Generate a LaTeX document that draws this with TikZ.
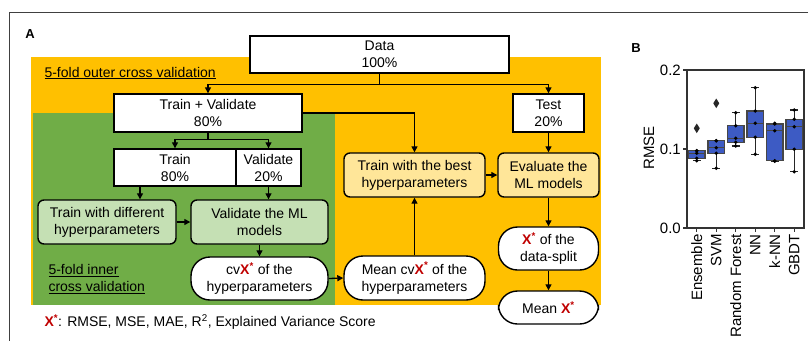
\documentclass[tikz,border=0pt]{standalone}
\usepackage{fontspec}
\setmainfont{Liberation Sans}
\usetikzlibrary{arrows.meta}
\definecolor{orng}{HTML}{FFC000}
\definecolor{grn}{HTML}{70AD47}
\definecolor{lgrn}{HTML}{C5E0B4}
\definecolor{lyel}{HTML}{FFE699}
\definecolor{xred}{HTML}{C00000}
\definecolor{bblue}{HTML}{3D5BC4}
\definecolor{bgray}{HTML}{474747}
\newcommand{\xs}{\textcolor{xred}{\textbf{X\textsuperscript{*}}}}
\newcommand{\bxp}[6]{%
  \draw[whisk] (#1,#2) -- (#1,#3) (#1,#5) -- (#1,#6) ({#1-4},#2) -- ({#1+4},#2) ({#1-4},#6) -- ({#1+4},#6);
  \draw[bxs] ({#1-8.3},#3) rectangle ({#1+8.3},#5);
  \draw[medl] ({#1-8.3},#4) -- ({#1+8.3},#4);
  \foreach \yy in {#2,#3,#4,#5,#6} \fill (#1,\yy) circle (1.9pt);
}
\newcommand{\outl}[2]{\fill[black!85] (#1,{#2-4.8}) -- ({#1+3},#2) -- (#1,{#2+4.8}) -- ({#1-3},#2) -- cycle;}
\begin{document}
\begin{tikzpicture}[x=1pt,y=-1pt,
  txt/.style={font=\fontsize{14}{17}\selectfont},
  box/.style={draw=black, line width=1.4pt, fill=white, inner sep=0pt, align=center, txt},
  rbox/.style={box, rounded corners=6pt},
  pill/.style={box, rounded corners=19pt},
  ln/.style={line width=1.3pt},
  arr/.style={line width=1.3pt, -{Triangle[length=6pt,width=6pt]}},
  whisk/.style={line width=1.1pt, black!85},
  bxs/.style={line width=1.2pt, draw=bgray, fill=bblue},
  medl/.style={line width=1.2pt, bgray},
  lab/.style={font=\fontsize{15}{18}\selectfont}
]
\useasboundingbox (0,0) rectangle (809,341);
\fill[white] (0,0) rectangle (809,341);
% outer frame
\draw[line width=0.9pt, black!75] (808,12) -- (9,12) -- (9,341);
% background regions
\fill[orng] (31,57) rectangle (601,305);
\fill[grn] (33,113) rectangle (335,305);
\node[font=\bfseries\fontsize{13}{15}\selectfont] (lA) at (30,34) {A};
\node[txt, anchor=west] (outer) at (41,73) {\underline{5-fold outer cross validation}};
\node[txt, anchor=north west, align=left] (inner) at (45,261) {\underline{5-fold inner}\\\underline{cross validation}};
\node[txt, anchor=west] (foot) at (41,322) {\xs: RMSE, MSE, MAE, R\textsuperscript{2}, Explained Variance Score};
% boxes
\node[box, minimum width=259pt, minimum height=37pt] (data) at (379.5,54.5) {Data\\100\%};
\node[box, minimum width=188pt, minimum height=38pt] (tv) at (208,113) {Train + Validate\\80\%};
\node[box, minimum width=71pt, minimum height=38pt] (test) at (548.5,113) {Test\\20\%};
\node[box, minimum width=122pt, minimum height=37pt] (train) at (175,167.5) {Train\\80\%};
\node[box, minimum width=65pt, minimum height=37pt] (valid) at (268.5,167.5) {Validate\\20\%};
\node[rbox, fill=lgrn, minimum width=138pt, minimum height=44pt] (tdiff) at (107,222) {Train with different\\hyperparameters};
\node[rbox, fill=lgrn, minimum width=137pt, minimum height=44pt] (vml) at (259.5,222) {Validate the ML\\models};
\node[pill, minimum width=137pt, minimum height=43pt] (cv) at (259.5,278.5) {cv\xs{} of the\\hyperparameters};
\node[pill, minimum width=141pt, minimum height=44pt] (mcv) at (414.5,278) {Mean cv\xs{} of the\\hyperparameters};
\node[rbox, fill=lyel, minimum width=141pt, minimum height=44pt] (tbest) at (414.5,175) {Train with the best\\hyperparameters};
\node[rbox, fill=lyel, minimum width=101pt, minimum height=44pt] (eval) at (548.5,175) {Evaluate the\\ML models};
\node[pill, minimum width=100pt, minimum height=43pt] (xds) at (548.5,248.5) {\xs{} of the\\data-split};
\node[pill, minimum width=100pt, minimum height=33pt] (meanx) at (548.5,307.5) {Mean \xs};
% connectors
\coordinate (j1) at ([yshift=-11pt]data.south);
\draw[ln] (data.south) -- (j1);
\draw[arr] (j1) -| (tv.north);
\draw[arr] (j1) -| (test.north);
\coordinate (j2) at ([yshift=-7pt]tv.south);
\draw[ln] (tv.south) -- (j2);
\draw[arr] (j2) -| (train.north);
\draw[arr] (j2) -| (valid.north);
\draw[arr] (tv.east) -| (tbest.north);
\coordinate (t1) at ([xshift=-35pt]train.south);
\draw[arr] (t1) -- (t1 |- tdiff.north);
\draw[arr] (valid.south) -- (valid.south |- vml.north);
\draw[arr] (tdiff.east) -- (vml.west);
\draw[arr] (vml.south) -- (cv.north);
\draw[arr] (cv.east) -- (mcv.west);
\draw[arr] (mcv.north) -- (tbest.south);
\draw[arr] (tbest.east) -- (eval.west);
\draw[arr] (test.south) -- (eval.north);
\draw[arr] (eval.south) -- (xds.north);
\draw[arr] (xds.south) -- (meanx.north);
% panel B
\node[font=\bfseries\fontsize{13}{15}\selectfont] (lB) at (636,48) {B};
\draw[line width=1.1pt, black!80] (687,70) rectangle (804,228);
\foreach \yv/\tl in {70/0.2,149/0.1,228/0.0}{
  \draw[line width=1.1pt, black!80] (683,\yv) -- (687,\yv);
  \node[lab, anchor=east, inner sep=0pt] at (681,\yv) {\tl};
}
\node[lab, rotate=90] (rmse) at (649,148) {RMSE};
\foreach \cx/\cn in {696.75/Ensemble,716.25/SVM,735.75/Random Forest,755.25/NN,774.75/k-NN,794.25/GBDT}{
  \draw[line width=1.1pt, black!80] (\cx,228) -- (\cx,232);
  \node[lab, rotate=90, anchor=east, inner sep=0pt] at (\cx,234) {\cn};
}
\bxp{696.75}{160.7}{158.3}{153.3}{150.7}{150.7}
\outl{696.75}{128.3}
\bxp{716.25}{168.3}{153.3}{147.7}{140.7}{140.7}
\outl{716.25}{103.3}
\bxp{735.75}{146}{142.3}{138.3}{125.7}{112.7}
\bxp{755.25}{154.3}{137.3}{123.3}{111}{87.7}
\bxp{774.75}{161.3}{160.7}{130.7}{124}{123.3}
\bxp{794.25}{171.7}{149.3}{126.7}{119.3}{110}
\end{tikzpicture}
\end{document}
